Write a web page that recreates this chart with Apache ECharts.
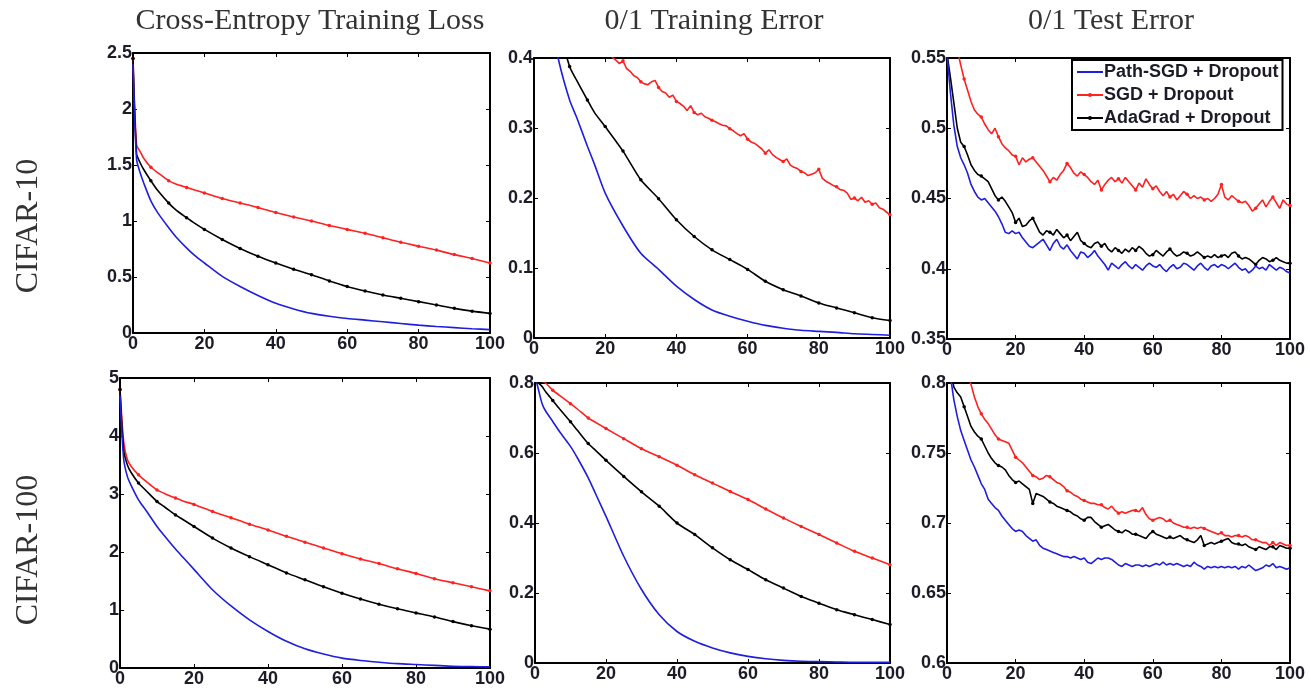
<!DOCTYPE html>
<html>
<head>
<meta charset="utf-8">
<script src="https://cdn.jsdelivr.net/npm/echarts@6/dist/echarts.min.js"></script>
<style>
  html, body { margin: 0; padding: 0; background: #fff; }
  #chart { width: 1310px; height: 692px; }
</style>
</head>
<body>
<div id="chart"></div>
<script>
// epochs for the smooth curves and for the noisy (per-epoch) curves
const epochs = [0, 1, 2, 3, 5, 7, 10, 12, 15, 17, 20, 25, 30, 35, 40, 45, 50, 55, 60, 65, 70, 75, 80, 85, 90, 95, 100];
const epochsAll = Array.from({ length: 101 }, (_, i) => i);

const colTitles = ["Cross-Entropy Training Loss", "0/1 Training Error", "0/1 Test Error"];
const rowTitles = ["CIFAR-10", "CIFAR-100"];
const seriesNames = ["Path-SGD + Dropout", "SGD + Dropout", "AdaGrad + Dropout"];

// CIFAR-10, cross-entropy training loss
const ce10Path = [2.40, 1.55, 1.43, 1.34, 1.18, 1.07, 0.94, 0.86, 0.76, 0.70, 0.625, 0.505, 0.415, 0.335, 0.265, 0.215, 0.175, 0.15, 0.13, 0.115, 0.10, 0.085, 0.07, 0.058, 0.048, 0.038, 0.03];
const ce10Sgd = [2.45, 1.68, 1.62, 1.56, 1.48, 1.43, 1.36, 1.33, 1.30, 1.28, 1.25, 1.20, 1.16, 1.12, 1.075, 1.035, 1.00, 0.96, 0.925, 0.89, 0.85, 0.81, 0.775, 0.74, 0.70, 0.665, 0.625];
const ce10Ada = [2.45, 1.60, 1.52, 1.46, 1.36, 1.27, 1.16, 1.10, 1.03, 0.985, 0.925, 0.835, 0.755, 0.685, 0.625, 0.57, 0.52, 0.465, 0.415, 0.375, 0.34, 0.31, 0.28, 0.25, 0.22, 0.195, 0.175];

// CIFAR-10, 0/1 training error
const tr10Path = [0.82, 0.70, 0.60, 0.53, 0.45, 0.395, 0.34, 0.315, 0.274, 0.248, 0.207, 0.16, 0.121, 0.098, 0.074, 0.055, 0.040, 0.031, 0.024, 0.018, 0.014, 0.011, 0.0095, 0.008, 0.006, 0.005, 0.004];
const tr10Ada = [0.82, 0.72, 0.64, 0.58, 0.50, 0.445, 0.388, 0.368, 0.34, 0.322, 0.302, 0.267, 0.226, 0.199, 0.169, 0.145, 0.126, 0.112, 0.098, 0.081, 0.069, 0.06, 0.05, 0.043, 0.036, 0.029, 0.025];
const tr10Sgd = [0.80, 0.72, 0.66, 0.62, 0.59, 0.565, 0.545, 0.53, 0.515, 0.50, 0.49, 0.48, 0.47, 0.46, 0.452, 0.444, 0.437, 0.43, 0.424, 0.418,
  0.412, 0.406, 0.401, 0.397, 0.392, 0.396, 0.385, 0.381, 0.375, 0.372, 0.366, 0.363, 0.362, 0.366, 0.368, 0.358, 0.352, 0.350, 0.344, 0.347,
  0.338, 0.335, 0.331, 0.325, 0.332, 0.322, 0.319, 0.321, 0.316, 0.314, 0.311, 0.309, 0.306, 0.304, 0.303, 0.299, 0.296, 0.292, 0.289, 0.292,
  0.284, 0.280, 0.278, 0.274, 0.270, 0.264, 0.269, 0.262, 0.258, 0.255, 0.252, 0.256, 0.247, 0.244, 0.242, 0.238, 0.236, 0.232, 0.234, 0.236,
  0.241, 0.228, 0.224, 0.221, 0.218, 0.216, 0.212, 0.211, 0.207, 0.198, 0.200, 0.196, 0.201, 0.194, 0.196, 0.191, 0.193, 0.186, 0.184, 0.180, 0.176];

// CIFAR-10, 0/1 test error
const te10Path = [0.553, 0.525, 0.502, 0.487, 0.479, 0.474, 0.468, 0.460, 0.455, 0.451, 0.449, 0.450, 0.447, 0.444, 0.441, 0.437, 0.432, 0.426, 0.425, 0.427,
  0.425, 0.426, 0.422, 0.419, 0.416, 0.415, 0.417, 0.419, 0.421, 0.417, 0.413, 0.418, 0.421, 0.416, 0.414, 0.417, 0.413, 0.410, 0.407, 0.412,
  0.411, 0.408, 0.410, 0.413, 0.409, 0.406, 0.403, 0.399, 0.404, 0.402, 0.400, 0.403, 0.405, 0.402, 0.400, 0.403, 0.401, 0.399, 0.402, 0.404,
  0.402, 0.401, 0.403, 0.400, 0.398, 0.401, 0.403, 0.400, 0.401, 0.404, 0.403, 0.401, 0.399, 0.402, 0.404, 0.401, 0.399, 0.402, 0.403, 0.401,
  0.403, 0.402, 0.400, 0.402, 0.404, 0.401, 0.399, 0.400, 0.397, 0.399, 0.402, 0.400, 0.401, 0.399, 0.403, 0.401, 0.399, 0.401, 0.400, 0.398, 0.397];
const te10Sgd = [0.60, 0.585, 0.568, 0.556, 0.545, 0.535, 0.527, 0.519, 0.513, 0.510, 0.508, 0.503, 0.499, 0.496, 0.500, 0.494, 0.489, 0.486, 0.484, 0.481,
  0.480, 0.474, 0.479, 0.476, 0.478, 0.479, 0.476, 0.473, 0.470, 0.466, 0.462, 0.465, 0.463, 0.467, 0.470, 0.475, 0.472, 0.468, 0.466, 0.469,
  0.467, 0.465, 0.462, 0.460, 0.463, 0.456, 0.460, 0.463, 0.465, 0.462, 0.464, 0.461, 0.465, 0.462, 0.459, 0.456, 0.461, 0.458, 0.464, 0.460,
  0.457, 0.459, 0.455, 0.452, 0.455, 0.451, 0.453, 0.449, 0.452, 0.455, 0.453, 0.450, 0.452, 0.450, 0.451, 0.449, 0.450, 0.448, 0.450, 0.453,
  0.460, 0.451, 0.449, 0.452, 0.450, 0.448, 0.447, 0.448, 0.445, 0.441, 0.443, 0.446, 0.449, 0.444, 0.448, 0.451, 0.447, 0.443, 0.449, 0.446, 0.445];
const te10Ada = [0.553, 0.536, 0.518, 0.500, 0.490, 0.487, 0.481, 0.474, 0.470, 0.467, 0.466, 0.464, 0.462, 0.457, 0.452, 0.449, 0.451, 0.448, 0.444, 0.440,
  0.433, 0.436, 0.430, 0.431, 0.434, 0.436, 0.431, 0.426, 0.424, 0.427, 0.426, 0.424, 0.428, 0.425, 0.422, 0.424, 0.420, 0.423, 0.426, 0.420,
  0.418, 0.416, 0.415, 0.418, 0.419, 0.416, 0.418, 0.414, 0.412, 0.415, 0.413, 0.411, 0.414, 0.412, 0.415, 0.413, 0.416, 0.414, 0.411, 0.409,
  0.410, 0.413, 0.411, 0.409, 0.412, 0.414, 0.411, 0.409, 0.410, 0.412, 0.411, 0.409, 0.410, 0.412, 0.410, 0.408, 0.409, 0.408, 0.410, 0.408,
  0.409, 0.410, 0.408, 0.411, 0.412, 0.409, 0.407, 0.408, 0.407, 0.405, 0.403, 0.406, 0.408, 0.407, 0.405, 0.406, 0.408, 0.406, 0.405, 0.404, 0.404];

// CIFAR-100, cross-entropy training loss
const ce100Path = [4.7, 3.6, 3.3, 3.15, 2.90, 2.72, 2.44, 2.28, 2.05, 1.91, 1.70, 1.35, 1.07, 0.83, 0.63, 0.46, 0.33, 0.24, 0.17, 0.13, 0.10, 0.075, 0.06, 0.045, 0.03, 0.025, 0.02];
const ce100Sgd = [4.8, 3.9, 3.59, 3.48, 3.33, 3.22, 3.07, 3.01, 2.93, 2.88, 2.82, 2.70, 2.59, 2.48, 2.38, 2.27, 2.17, 2.07, 1.97, 1.88, 1.80, 1.71, 1.63, 1.54, 1.47, 1.40, 1.33];
const ce100Ada = [4.8, 3.75, 3.5, 3.37, 3.19, 3.06, 2.87, 2.78, 2.64, 2.56, 2.44, 2.24, 2.07, 1.92, 1.78, 1.64, 1.52, 1.40, 1.29, 1.19, 1.10, 1.02, 0.95, 0.88, 0.80, 0.73, 0.67];

// CIFAR-100, 0/1 training error
const tr100Path = [0.82, 0.78, 0.741, 0.72, 0.69, 0.66, 0.619, 0.585, 0.529, 0.485, 0.419, 0.305, 0.21, 0.138, 0.09, 0.062, 0.043, 0.029, 0.019, 0.012, 0.0076, 0.005, 0.004, 0.003, 0.002, 0.002, 0.002];
const tr100Sgd = [0.82, 0.81, 0.805, 0.80, 0.779, 0.764, 0.741, 0.725, 0.70, 0.688, 0.67, 0.641, 0.612, 0.589, 0.565, 0.538, 0.514, 0.49, 0.467, 0.44, 0.414, 0.39, 0.367, 0.343, 0.319, 0.30, 0.281];
const tr100Ada = [0.82, 0.80, 0.79, 0.775, 0.75, 0.725, 0.689, 0.664, 0.627, 0.608, 0.579, 0.533, 0.489, 0.448, 0.40, 0.367, 0.329, 0.295, 0.267, 0.238, 0.214, 0.19, 0.171, 0.152, 0.138, 0.124, 0.11];

// CIFAR-100, 0/1 test error
const te100Path = [0.82, 0.805, 0.788, 0.776, 0.766, 0.759, 0.752, 0.745, 0.740, 0.734, 0.728, 0.724, 0.717, 0.714, 0.711, 0.709, 0.705, 0.702, 0.699, 0.696,
  0.694, 0.695, 0.694, 0.691, 0.689, 0.687, 0.688, 0.684, 0.682, 0.681, 0.680, 0.679, 0.678, 0.677, 0.676, 0.676, 0.675, 0.676, 0.675, 0.674,
  0.675, 0.672, 0.671, 0.673, 0.675, 0.674, 0.675, 0.675, 0.674, 0.672, 0.670, 0.669, 0.671, 0.670, 0.669, 0.670, 0.670, 0.669, 0.670, 0.669,
  0.670, 0.671, 0.670, 0.672, 0.670, 0.671, 0.670, 0.671, 0.670, 0.669, 0.670, 0.669, 0.672, 0.670, 0.669, 0.667, 0.669, 0.668, 0.669, 0.668,
  0.669, 0.668, 0.669, 0.668, 0.669, 0.667, 0.669, 0.668, 0.670, 0.668, 0.666, 0.667, 0.668, 0.670, 0.669, 0.671, 0.668, 0.669, 0.668, 0.667, 0.668];
const te100Sgd = [0.87, 0.855, 0.842, 0.831, 0.821, 0.812, 0.805, 0.799, 0.790, 0.783, 0.778, 0.774, 0.771, 0.767, 0.763, 0.760, 0.759, 0.758, 0.757, 0.752,
  0.747, 0.745, 0.743, 0.740, 0.737, 0.734, 0.733, 0.731, 0.732, 0.734, 0.733, 0.731, 0.729, 0.728, 0.726, 0.723, 0.722, 0.720, 0.719, 0.717,
  0.716, 0.715, 0.714, 0.714, 0.713, 0.713, 0.711, 0.710, 0.712, 0.709, 0.707, 0.708, 0.707, 0.708, 0.709, 0.709, 0.708, 0.711, 0.706, 0.703,
  0.702, 0.703, 0.704, 0.703, 0.701, 0.702, 0.700, 0.699, 0.698, 0.697, 0.697, 0.696, 0.697, 0.696, 0.697, 0.696, 0.695, 0.694, 0.693, 0.692,
  0.693, 0.691, 0.691, 0.690, 0.691, 0.691, 0.690, 0.691, 0.690, 0.688, 0.688, 0.687, 0.686, 0.686, 0.684, 0.686, 0.684, 0.686, 0.685, 0.684, 0.684];
const te100Ada = [0.82, 0.81, 0.797, 0.793, 0.790, 0.783, 0.776, 0.769, 0.765, 0.762, 0.760, 0.755, 0.750, 0.746, 0.743, 0.741, 0.740, 0.738, 0.734, 0.731,
  0.729, 0.730, 0.728, 0.726, 0.724, 0.714, 0.721, 0.720, 0.719, 0.717, 0.715, 0.714, 0.712, 0.711, 0.710, 0.709, 0.708, 0.706, 0.705, 0.703,
  0.702, 0.704, 0.704, 0.701, 0.699, 0.697, 0.698, 0.699, 0.697, 0.695, 0.694, 0.693, 0.695, 0.694, 0.692, 0.692, 0.691, 0.690, 0.689, 0.692,
  0.694, 0.692, 0.691, 0.690, 0.689, 0.690, 0.689, 0.690, 0.691, 0.689, 0.688, 0.687, 0.686, 0.688, 0.691, 0.684, 0.685, 0.686, 0.685, 0.686,
  0.687, 0.688, 0.689, 0.686, 0.685, 0.685, 0.684, 0.685, 0.683, 0.682, 0.681, 0.683, 0.682, 0.681, 0.683, 0.683, 0.681, 0.684, 0.683, 0.682, 0.682];

// y ranges of the six panels: [min, max, step]
const yRanges = [[0, 2.5, 0.5], [0, 0.4, 0.1], [0.35, 0.55, 0.05], [0, 5, 1], [0, 0.8, 0.2], [0.6, 0.8, 0.05]];

const BLUE = "#1e1ee0";
const RED = "#ff2020";
const BLACK = "#000000";

const panels = [
  { grid: { left: 133, top: 53, width: 357, height: 280 }, lines: [[epochs, ce10Path], [epochs, ce10Sgd], [epochs, ce10Ada]] },
  { grid: { left: 534, top: 58, width: 356, height: 280 }, lines: [[epochs, tr10Path], [epochsAll, tr10Sgd], [epochs, tr10Ada]] },
  { grid: { left: 947, top: 58, width: 343, height: 281 }, lines: [[epochsAll, te10Path], [epochsAll, te10Sgd], [epochsAll, te10Ada]] },
  { grid: { left: 120, top: 378, width: 370, height: 290 }, lines: [[epochs, ce100Path], [epochs, ce100Sgd], [epochs, ce100Ada]] },
  { grid: { left: 535, top: 383, width: 355, height: 280 }, lines: [[epochs, tr100Path], [epochs, tr100Sgd], [epochs, tr100Ada]] },
  { grid: { left: 947, top: 383, width: 343, height: 280 }, lines: [[epochsAll, te100Path], [epochsAll, te100Sgd], [epochsAll, te100Ada]] },
];

const colors = [BLUE, RED, BLACK];
const labelStyle = { color: "#1c1c28", fontFamily: "Liberation Sans", fontWeight: "bold", fontSize: 18 };
const edge = { show: true, onZero: false, lineStyle: { color: "#000", width: 2 } };
const tick = { show: true, inside: true, length: 4, lineStyle: { color: "#000", width: 1 } };

const grids = [], xAxes = [], yAxes = [], series = [];
panels.forEach((p, i) => {
  grids.push(p.grid);
  const [ymin, ymax, ystep] = yRanges[i];
  xAxes.push(
    { type: "value", gridIndex: i, min: 0, max: 100, interval: 20, position: "bottom",
      axisLine: edge, axisTick: tick, splitLine: { show: false },
      axisLabel: Object.assign({ margin: 2 }, labelStyle) },
    { type: "value", gridIndex: i, min: 0, max: 100, interval: 20, position: "top",
      axisLine: edge, axisTick: tick, splitLine: { show: false }, axisLabel: { show: false } }
  );
  yAxes.push(
    { type: "value", gridIndex: i, min: ymin, max: ymax, interval: ystep, position: "left",
      axisLine: edge, axisTick: tick, splitLine: { show: false },
      axisLabel: Object.assign({ margin: 1 }, labelStyle) },
    { type: "value", gridIndex: i, min: ymin, max: ymax, interval: ystep, position: "right",
      axisLine: edge, axisTick: tick, splitLine: { show: false }, axisLabel: { show: false } }
  );
  p.lines.forEach(([xs, ys], k) => {
    series.push({
      name: seriesNames[k],
      type: "line",
      xAxisIndex: 2 * i,
      yAxisIndex: 2 * i,
      data: xs.map((x, j) => [x, ys[j]]),
      smooth: xs === epochs ? 0.25 : false,
      symbol: k === 0 ? "none" : "circle",
      symbolSize: (v) => (v[0] % 5 === 0 ? 3.5 : 0),
      showAllSymbol: true,
      lineStyle: { color: colors[k], width: 1.6 },
      itemStyle: { color: colors[k] },
      z: k === 0 ? 3 : 2,
    });
  });
});

const titleFont = "30px 'Liberation Serif', serif";
const rowFont = "32px 'Liberation Serif', serif";
const graphics = [
  { type: "text", x: 310, y: 21, style: { text: colTitles[0], font: titleFont, fill: "#333", textAlign: "center", textVerticalAlign: "middle" } },
  { type: "text", x: 714, y: 21, style: { text: colTitles[1], font: titleFont, fill: "#333", textAlign: "center", textVerticalAlign: "middle" } },
  { type: "text", x: 1111, y: 21, style: { text: colTitles[2], font: titleFont, fill: "#333", textAlign: "center", textVerticalAlign: "middle" } },
  { type: "text", x: 29, y: 226, rotation: Math.PI / 2, style: { text: rowTitles[0], font: rowFont, fill: "#333", textAlign: "center", textVerticalAlign: "middle" } },
  { type: "text", x: 29, y: 550, rotation: Math.PI / 2, style: { text: rowTitles[1], font: rowFont, fill: "#333", textAlign: "center", textVerticalAlign: "middle" } },
];

const chart = echarts.init(document.getElementById("chart"));
chart.setOption({
  animation: false,
  backgroundColor: "#fff",
  grid: grids,
  xAxis: xAxes,
  yAxis: yAxes,
  legend: {
    data: [
      { name: seriesNames[0], icon: "path://M0,0H26V2H0Z" },
      { name: seriesNames[1] },
      { name: seriesNames[2] },
    ],
    orient: "vertical",
    left: 1072,
    top: 60,
    padding: [3, 4, 3, 4],
    itemGap: 5,
    itemWidth: 26,
    itemHeight: 5,
    borderColor: "#000",
    borderWidth: 2,
    backgroundColor: "#fff",
    selectedMode: false,
    textStyle: { color: "#1c1c28", fontFamily: "Liberation Sans", fontWeight: "bold", fontSize: 18, padding: [0, 0, 0, -4] },
  },
  graphic: graphics,
  series: series,
});
</script>
</body>
</html>
